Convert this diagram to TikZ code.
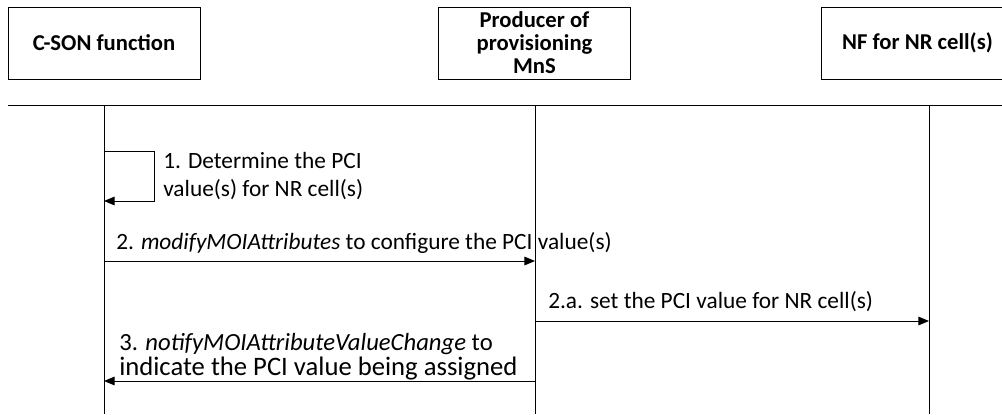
\documentclass[tikz,border=0pt]{standalone}
\usepackage{fontspec}
\setmainfont{Carlito}
\usetikzlibrary{arrows.meta}
\begin{document}
\begin{tikzpicture}[x=0.75pt,y=-0.75pt,
  actor/.style={draw, line width=0.75pt, minimum width=144pt, minimum height=54pt, inner sep=0pt, font=\bfseries\fontsize{17}{17.25}\selectfont, align=center},
  lifeline/.style={line width=0.75pt},
  msg/.style={line width=0.75pt, -{Triangle[length=8pt,width=6.5pt]}},
  lbl/.style={font=\fontsize{17.5}{18}\selectfont, inner sep=0pt, anchor=base west},
  midlbl/.style={font=\fontsize{18.5}{20}\selectfont, inner sep=0pt, anchor=base west},
  biglbl/.style={font=\fontsize{20}{20}\selectfont, inner sep=0pt, anchor=base west}]
\useasboundingbox (0,0) rectangle (1002,414);
% actors
\node[actor] (cson) at (104,43) {C-SON function};
\node[actor] (prov) at (534.5,43) {Producer of\\provisioning\\MnS};
\node[actor] (nf) at (917.5,43) {NF for NR cell(s)};
% separator
\coordinate (sepL) at (8,105);
\coordinate (sepR) at (1002,105);
\draw[lifeline] (sepL) -- (sepR);
% lifelines
\coordinate (l1t) at (104,105); \coordinate (l1b) at (104,414);
\coordinate (l2t) at (535,105); \coordinate (l2b) at (535,414);
\coordinate (l3t) at (929,105); \coordinate (l3b) at (929,414);
\draw[lifeline] (l1t) -- (l1b);
\draw[lifeline] (l2t) -- (l2b);
\draw[lifeline] (l3t) -- (l3b);
% step 1 self loop
\coordinate (s1a) at (104,151);
\coordinate (s1b) at (154,151);
\coordinate (s1c) at (154,201);
\coordinate (s1d) at (104,201);
\draw[msg] (s1a) -- (s1b) -- (s1c) -- (s1d);
\node[lbl] (t1a) at (163,168) {1. Determine the PCI};
\node[lbl] (t1b) at (163,196) {value(s) for NR cell(s)};
% step 2
\coordinate (m2a) at (104,261);
\coordinate (m2b) at (535,261);
\draw[msg] (m2a) -- (m2b);
\node[lbl] (t2) at (116,249) {2. \textit{modifyMOIAttributes} to configure the PCI value(s)};
% step 2.a
\coordinate (m2aa) at (535,321);
\coordinate (m2ab) at (929,321);
\draw[msg] (m2aa) -- (m2ab);
\node[lbl] (t2a) at (548,308) {2.a. set the PCI value for NR cell(s)};
% step 3
\coordinate (m3a) at (535,381);
\coordinate (m3b) at (104,381);
\draw[msg] (m3a) -- (m3b);
\node[midlbl] (t3a) at (119,350) {3. \textit{notifyMOIAttributeValueChange} to};
\node[biglbl] (t3b) at (119,375) {indicate the PCI value being assigned};
\end{tikzpicture}
\end{document}
